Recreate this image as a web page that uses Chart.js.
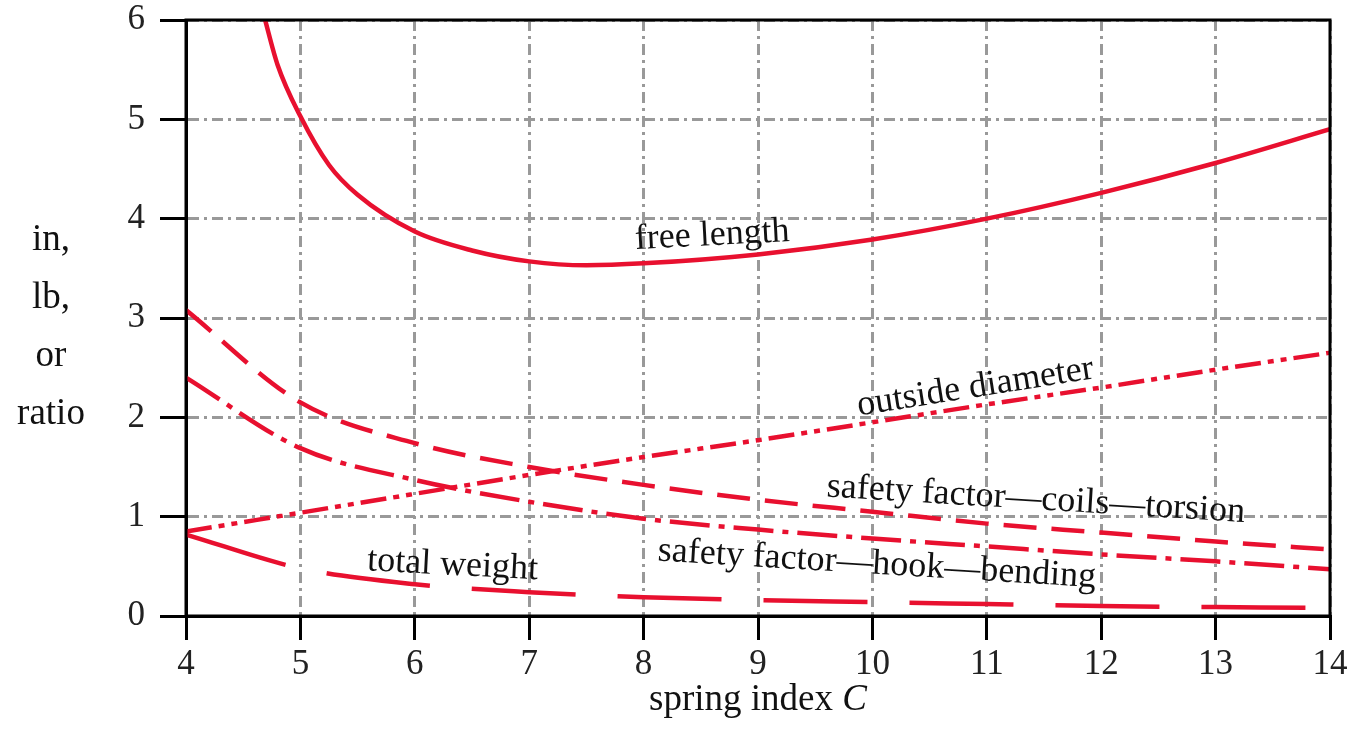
<!DOCTYPE html>
<html>
<head>
<meta charset="utf-8">
<script src="https://cdn.jsdelivr.net/npm/chart.js@4"></script>
<style>
  html, body { margin: 0; padding: 0; background: #fff; }
  #wrap { width: 1355px; height: 744px; }
</style>
</head>
<body>
<div id="wrap"><canvas id="chart" width="1355" height="744"></canvas></div>
<script>
// spring index values
const freeLengthX = [4.68, 4.8, 5, 5.25, 5.5, 6, 6.5, 7, 7.5, 8, 9, 10, 11, 12, 13, 14];
const freeLengthY = [6.05, 5.55, 5.03, 4.54, 4.24, 3.87, 3.68, 3.57, 3.53, 3.55, 3.64, 3.79, 4.0, 4.26, 4.56, 4.9];

const indexX = [4, 5, 6, 7, 8, 9, 10, 11, 12, 13, 14];
const outsideDiameter = [0.85, 1.04, 1.23, 1.42, 1.6, 1.77, 1.95, 2.13, 2.3, 2.48, 2.65];
const sfCoilsTorsion = [3.08, 2.15, 1.74, 1.5, 1.32, 1.17, 1.05, 0.93, 0.84, 0.75, 0.67];
const sfHookBending = [2.4, 1.69, 1.37, 1.15, 0.98, 0.87, 0.78, 0.7, 0.62, 0.55, 0.47];
const totalWeight = [0.82, 0.48, 0.32, 0.24, 0.19, 0.16, 0.14, 0.12, 0.1, 0.09, 0.08];

const xTicks = [4, 5, 6, 7, 8, 9, 10, 11, 12, 13, 14];
const yTicks = [0, 1, 2, 3, 4, 5, 6];

const red = "#e8102f";
const serif = "'Liberation Serif', 'DejaVu Serif', serif";

const pts = (xs, ys) => xs.map((x, i) => ({ x, y: ys[i] }));

// curve labels, placed in data units
const curveLabels = [
    { text: "free length", x: 8.6, y: 3.83, rot: -3 },
    { text: "outside diameter", x: 10.9, y: 2.3, rot: -9 },
    { text: "safety factor\u2014coils\u2014torsion", x: 11.43, y: 1.17, rot: 3.5 },
    { text: "safety factor\u2014hook\u2014bending", x: 10.04, y: 0.52, rot: 3.5 },
    { text: "total weight", x: 6.33, y: 0.51, rot: 3 }
];

const annotate = {
    id: "annotate",
    afterDraw(chart) {
        const ctx = chart.ctx;
        const a = chart.chartArea;
        const xs = chart.scales.x, ys = chart.scales.y;

        // frame
        ctx.save();
        ctx.strokeStyle = "#000";
        ctx.lineWidth = 3;
        ctx.strokeRect(a.left, a.top, a.right - a.left, a.bottom - a.top);
        ctx.restore();

        ctx.save();
        ctx.fillStyle = "#111";
        ctx.font = "36px " + serif;
        ctx.textAlign = "center";
        ctx.textBaseline = "middle";
        curveLabels.forEach(l => {
            ctx.save();
            ctx.translate(xs.getPixelForValue(l.x), ys.getPixelForValue(l.y));
            ctx.rotate(l.rot * Math.PI / 180);
            ctx.fillText(l.text, 0, 0);
            ctx.restore();
        });

        // y axis title
        ctx.font = "37px " + serif;
        ["in,", "lb,", "or", "ratio"].forEach((t, i) => {
            ctx.fillText(t, 51, 240 + i * 58);
        });

        // x axis title
        ctx.textAlign = "left";
        const base = "spring index ";
        const w = ctx.measureText(base).width;
        ctx.font = "italic 37px " + serif;
        const wc = ctx.measureText("C").width;
        const x0 = (a.left + a.right) / 2 - (w + wc) / 2;
        ctx.font = "37px " + serif;
        ctx.fillText(base, x0, 700);
        ctx.font = "italic 37px " + serif;
        ctx.fillText("C", x0 + w, 700);
        ctx.restore();
    }
};

const ds = (label, data, dash) => ({
    label,
    data,
    borderColor: red,
    borderWidth: 4.5,
    borderDash: dash,
    pointRadius: 0,
    fill: false,
    cubicInterpolationMode: "monotone"
});

new Chart(document.getElementById("chart"), {
    type: "line",
    data: {
        datasets: [
            ds("free length", pts(freeLengthX, freeLengthY), []),
            ds("outside diameter", pts(indexX, outsideDiameter), [26, 7, 6, 7, 6, 7]),
            ds("safety factor—coils—torsion", pts(indexX, sfCoilsTorsion), [33, 15]),
            ds("safety factor—hook—bending", pts(indexX, sfHookBending), [40, 9, 6, 9]),
            ds("total weight", pts(indexX, totalWeight), [104, 42])
        ]
    },
    options: {
        responsive: false,
        animation: false,
        layout: { padding: { top: 20, right: 25, left: 0, bottom: 0 } },
        plugins: { legend: { display: false }, tooltip: { enabled: false } },
        scales: {
            x: {
                type: "linear",
                min: 4,
                max: 14,
                afterBuildTicks: s => { s.ticks = xTicks.map(v => ({ value: v })); },
                afterFit: s => { s.height = 128; s.paddingLeft = 0; s.paddingRight = 0; },
                ticks: { color: "#222", font: { family: serif, size: 35 }, padding: 4 },
                grid: { color: "#999", lineWidth: 3, tickColor: "#000", tickWidth: 3, tickLength: 24, tickBorderDash: [] },
                border: { color: "#000", width: 3, dash: [11, 5, 3, 5] }
            },
            y: {
                type: "linear",
                min: 0,
                max: 6,
                afterBuildTicks: s => { s.ticks = yTicks.map(v => ({ value: v })); },
                afterFit: s => { s.width = 186; s.paddingTop = 0; s.paddingBottom = 0; },
                ticks: { color: "#222", font: { family: serif, size: 35 }, padding: 15 },
                grid: { color: "#999", lineWidth: 3, tickColor: "#000", tickWidth: 3, tickLength: 26, tickBorderDash: [] },
                border: { color: "#000", width: 3, dash: [11, 5, 3, 5] }
            }
        }
    },
    plugins: [annotate]
});
</script>
</body>
</html>
